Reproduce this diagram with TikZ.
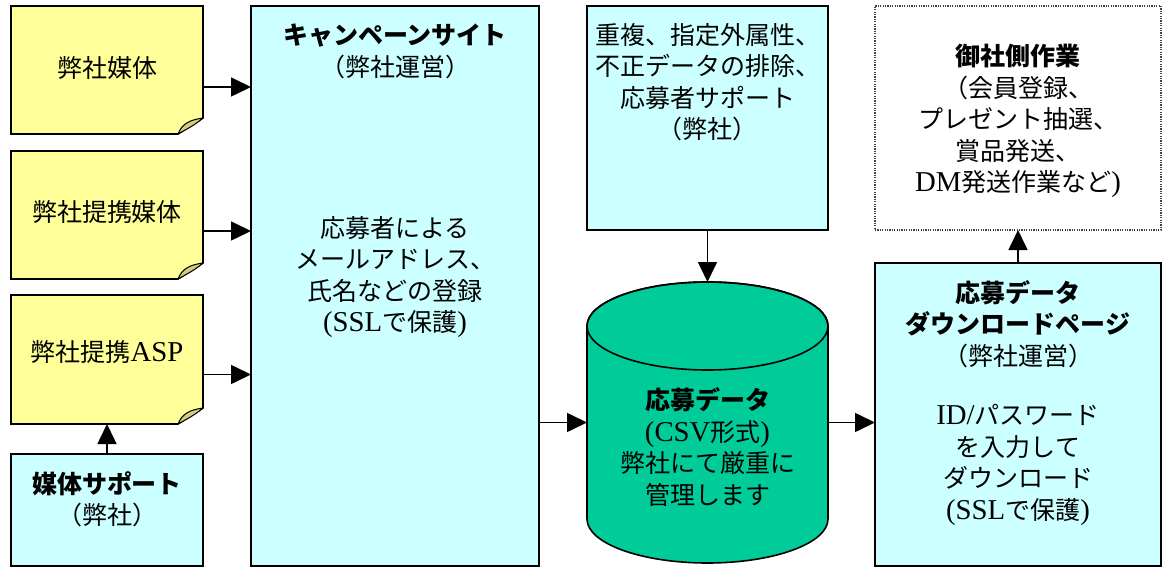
\documentclass[tikz,border=0pt]{standalone}
\usepackage{fontspec}
\setmainfont{Noto Sans CJK JP}
\newfontfamily\tmfont[Scale=1.15]{Liberation Serif}
\usetikzlibrary{arrows.meta,backgrounds}
\definecolor{noteyellow}{HTML}{FFFF99}
\definecolor{noteflap}{HTML}{D2CC80}
\definecolor{lightcyan}{HTML}{CCFFFF}
\definecolor{dbgreen}{HTML}{00CC99}
\newcommand\tmr[1]{{\tmfont #1}}
\newcommand\stickynote[1]{%
  \filldraw[fill=noteyellow, line width=1.6pt, line join=miter]
    (#1.north west) -- (#1.north east) -- ([yshift=16pt]#1.south east)
    -- ([xshift=-25pt]#1.south east) -- (#1.south west) -- cycle;
  \filldraw[fill=noteflap, line width=1pt, line join=round]
    ([xshift=-25pt]#1.south east)
    .. controls ([xshift=-21pt,yshift=10pt]#1.south east) and ([xshift=-14pt,yshift=14pt]#1.south east) .. ([yshift=16pt]#1.south east)
    .. controls ([xshift=-8pt,yshift=9pt]#1.south east) and ([xshift=-16pt,yshift=5pt]#1.south east) .. ([xshift=-25pt]#1.south east) -- cycle;}
\begin{document}
\begin{tikzpicture}[x=1pt,y=-1pt,
  box/.style={draw, line width=1.6pt, fill=lightcyan, inner sep=0pt, outer sep=0pt},
  noteframe/.style={inner sep=0pt, outer sep=0pt, minimum width=192pt},
  dotbox/.style={draw=black!75, dash pattern=on 1.2pt off 1.2pt, line width=1.2pt, inner sep=0pt, outer sep=0pt},
  ghost/.style={inner sep=0pt, outer sep=0pt},
  txt/.style={align=center, inner sep=0pt, font=\fontsize{25pt}{31.5pt}\selectfont},
  arr/.style={line width=1.6pt, -{Triangle[length=20pt,width=19pt]}}]
\useasboundingbox (0,0) rectangle (1163,567);

% note frames
\node[noteframe, minimum height=128pt] (n1) at (107,70) {};
\node[noteframe, minimum height=128pt] (n2) at (107,215) {};
\node[noteframe, minimum height=129pt] (n3) at (107,359.5) {};
\stickynote{n1}
\stickynote{n2}
\stickynote{n3}

% boxes
\node[box, minimum width=192pt, minimum height=112pt] (ms) at (107,510) {};
\node[box, minimum width=288pt, minimum height=560pt] (camp) at (395,286) {};
\node[box, minimum width=241pt, minimum height=224pt] (chk) at (707.5,118) {};
\node[box, minimum width=286pt, minimum height=303pt] (dl) at (1018,414.5) {};
\node[dotbox, minimum width=286pt, minimum height=224pt] (gw) at (1018,118) {};

% cylinder
\node[ghost, minimum width=241pt, minimum height=281pt] (db) at (707.5,422.5) {};
\filldraw[fill=dbgreen, line width=1.6pt]
  (587,326) -- (587,519) arc[start angle=180, end angle=360, x radius=120.5pt, y radius=44pt]
  -- (828,326) arc[start angle=0, end angle=180, x radius=120.5pt, y radius=44pt] -- cycle;
\draw[line width=1.6pt] (707.5,326) ellipse [x radius=120.5pt, y radius=44pt];

% texts
\node[txt] (tn1) at (107,68) {弊社媒体};
\node[txt] (tn2) at (107,212) {弊社提携媒体};
\node[txt] (tn3) at (107,352) {弊社提携\tmr{ASP}};
\node[txt] (tms) at (107,499.5) {{\bfseries 媒体サポート}\\（弊社）};
\node[txt] (tc1) at (395,51.5) {{\bfseries キャンペーンサイト}\\（弊社運営）};
\node[txt] (tc2) at (395,277) {応募者による\\メールアドレス、\\氏名などの登録\\\tmr{(SSL}で保護\tmr{)}};
\node[txt] (tchk) at (707.5,82) {重複、指定外属性、\\不正データの排除、\\応募者サポート\\（弊社）};
\node[txt] (tdb) at (707.5,447) {{\bfseries 応募データ}\\\tmr{(CSV}形式\tmr{)}\\弊社にて厳重に\\管理します};
\node[txt] (tgw) at (1018,121) {{\bfseries 御社側作業}\\（会員登録、\\プレゼント抽選、\\賞品発送、\\\tmr{DM}発送作業など\tmr{)}};
\node[txt] (tdl1) at (1018,324) {{\bfseries 応募データ}\\{\bfseries ダウンロードページ}\\（弊社運営）};
\node[txt] (tdl2) at (1018,465) {\tmr{ID/}パスワード\\を入力して\\ダウンロード\\\tmr{(SSL}で保護\tmr{)}};

% connectors
\coordinate (a1) at ([yshift=-17pt]n1.east);
\coordinate (a2) at ([yshift=-16pt]n2.east);
\coordinate (a3) at ([yshift=-15pt]n3.east);
\draw[arr] (a1) -- (a1 -| camp.west);
\draw[arr] (a2) -- (a2 -| camp.west);
\draw[arr] (a3) -- (a3 -| camp.west);
\draw[arr] (ms.north) -- (n3.south);
\coordinate (a4) at (camp.east |- db.west);
\draw[arr] (a4) -- (db.west);
\draw[arr] (chk.south) -- (db.north);
\draw[arr] (db.east) -- (db.east -| dl.west);
\draw[arr] (dl.north) -- (gw.south);
\end{tikzpicture}
\end{document}
